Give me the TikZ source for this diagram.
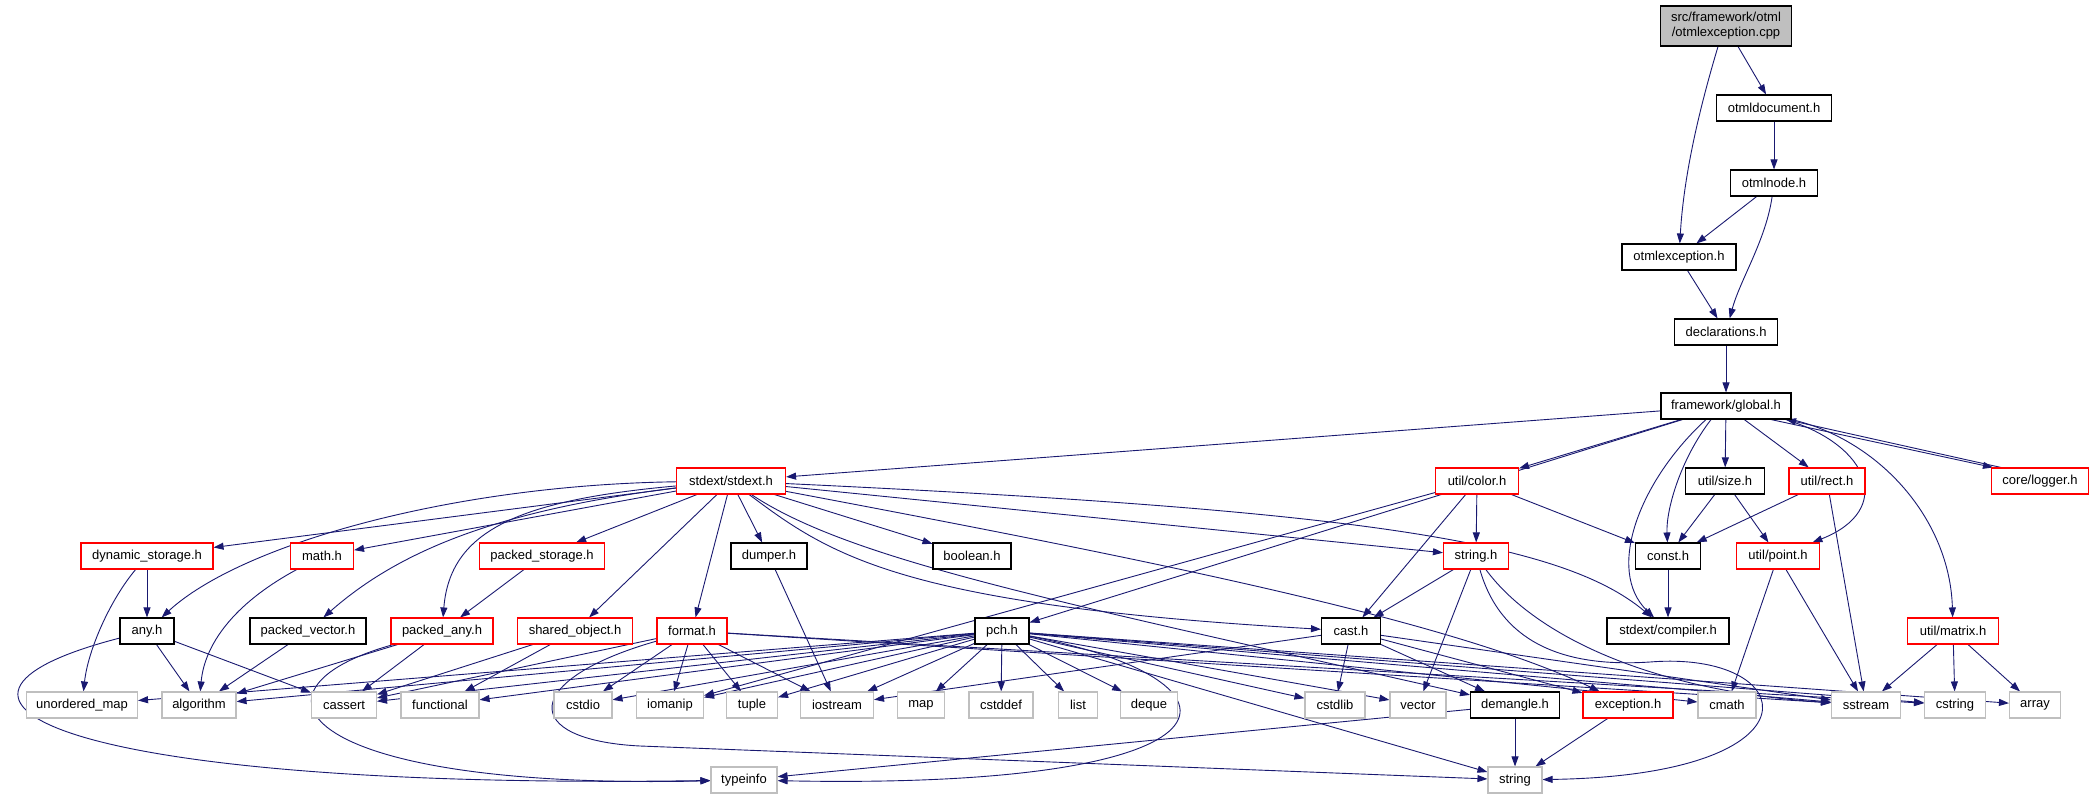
\documentclass[tikz,border=0pt]{standalone}
\usepackage{fontspec}
\setmainfont{Liberation Sans}
\usetikzlibrary{arrows.meta}
\pgfdeclarelayer{bg}
\pgfsetlayers{bg,main}
\definecolor{edgec}{HTML}{191970}
\definecolor{grayb}{HTML}{BFBFBF}
\definecolor{redb}{HTML}{FF0000}
\tikzset{
  x=1pt,y=1pt,
  nb/.style={draw=black,fill=white,line width=1.1pt,minimum height=26pt,inner sep=0pt,
    font=\fontsize{13}{15}\selectfont},
  nr/.style={nb,draw=redb},
  ng/.style={nb,draw=grayb},
  nsrc/.style={nb,fill=grayb,minimum height=40pt,align=center},
  e/.style={draw=edgec,line width=0.9pt,-{Triangle[length=10pt,width=7pt]}}
}
\begin{document}
\begin{tikzpicture}
\useasboundingbox (0,0) rectangle (2095,-799);
% rows
\node[nsrc,minimum width=131pt] (src) at (1726,-26) {src/framework/otml\\/otmlexception.cpp};
\node[nb,minimum width=115pt] (otmldoc) at (1774,-108) {otmldocument.h};
\node[nb,minimum width=87pt] (otmlnode) at (1774,-183) {otmlnode.h};
\node[nb,minimum width=114pt] (otmlexc) at (1679,-257) {otmlexception.h};
\node[nb,minimum width=103pt] (decl) at (1726,-332) {declarations.h};
\node[nb,minimum width=130pt] (global) at (1726,-406) {framework/global.h};
\node[nr,minimum width=109pt] (stdext) at (731,-481) {stdext/stdext.h};
\node[nr,minimum width=83pt] (color) at (1477,-481) {util/color.h};
\node[nb,minimum width=79pt] (size) at (1725,-481) {util/size.h};
\node[nr,minimum width=76pt] (rect) at (1827,-481) {util/rect.h};
\node[nr,minimum width=97pt] (logger) at (2040,-481) {core/logger.h};
\node[nr,minimum width=132pt] (dynstor) at (147,-556) {dynamic\_storage.h};
\node[nr,minimum width=63pt] (math) at (322,-556) {math.h};
\node[nr,minimum width=125pt] (pstor) at (542,-556) {packed\_storage.h};
\node[nb,minimum width=76pt] (dumper) at (769,-556) {dumper.h};
\node[nb,minimum width=78pt] (boolean) at (972,-556) {boolean.h};
\node[nr,minimum width=65pt] (stringh) at (1476,-556) {string.h};
\node[nb,minimum width=65pt] (const) at (1668,-556) {const.h};
\node[nr,minimum width=83pt] (point) at (1778,-556) {util/point.h};
\node[nb,minimum width=54pt] (any) at (147,-631) {any.h};
\node[nb,minimum width=116pt] (pvec) at (308,-631) {packed\_vector.h};
\node[nr,minimum width=102pt] (pany) at (442,-631) {packed\_any.h};
\node[nr,minimum width=115pt] (shobj) at (575,-631) {shared\_object.h};
\node[nr,minimum width=70pt] (format) at (692,-631) {format.h};
\node[nb,minimum width=54pt] (pch) at (1002,-631) {pch.h};
\node[nb,minimum width=59pt] (cast) at (1351,-631) {cast.h};
\node[nb,minimum width=122pt] (compiler) at (1668,-631) {stdext/compiler.h};
\node[nr,minimum width=91pt] (matrix) at (1953,-631) {util/matrix.h};
\node[ng,minimum width=111pt] (umap) at (82,-705) {unordered\_map};
\node[ng,minimum width=74pt] (algorithm) at (199,-705) {algorithm};
\node[ng,minimum width=65pt] (cassert) at (344,-705) {cassert};
\node[ng,minimum width=78pt] (functional) at (440,-705) {functional};
\node[ng,minimum width=58pt] (cstdio) at (583,-705) {cstdio};
\node[ng,minimum width=67pt] (iomanip) at (670,-705) {iomanip};
\node[ng,minimum width=51pt] (tuple) at (752,-705) {tuple};
\node[ng,minimum width=73pt] (iostream) at (837,-705) {iostream};
\node[ng,minimum width=47pt] (map) at (921,-705) {map};
\node[ng,minimum width=64pt] (cstddef) at (1001,-705) {cstddef};
\node[ng,minimum width=39pt] (list) at (1078,-705) {list};
\node[ng,minimum width=57pt] (deque) at (1149,-705) {deque};
\node[ng,minimum width=60pt] (cstdlib) at (1335,-705) {cstdlib};
\node[ng,minimum width=56pt] (vector) at (1418,-705) {vector};
\node[nb,minimum width=89pt] (demangle) at (1515,-705) {demangle.h};
\node[nr,minimum width=90pt] (exception) at (1628,-705) {exception.h};
\node[ng,minimum width=58pt] (cmath) at (1727,-705) {cmath};
\node[ng,minimum width=69pt] (sstream) at (1866,-705) {sstream};
\node[ng,minimum width=61pt] (cstring) at (1955,-705) {cstring};
\node[ng,minimum width=51pt] (array) at (2035,-705) {array};
\node[ng,minimum width=66pt] (typeinfo) at (744,-780) {typeinfo};
\node[ng,minimum width=54pt] (string) at (1515,-780) {string};

\begin{pgfonlayer}{bg}
% top chain
\draw[e] (src) -- (otmldoc);
\draw[e] ([xshift=-8pt]src.south) .. controls (1702,-100) and (1684,-170) .. (otmlexc);
\draw[e] (otmldoc) -- (otmlnode);
\draw[e] (otmlnode) -- (otmlexc);
\draw[e] (otmlnode) .. controls (1766,-240) and (1740,-280) .. (decl);
\draw[e] (otmlexc) -- (decl);
\draw[e] (decl) -- (global);
% global
\draw[e] (global) -- (stdext);
\draw[e] (global) -- (pch);
\draw[e] (global) -- (color);
\draw[e] (global) -- (size);
\draw[e] (global) -- (rect);
\draw[e] ([xshift=45pt]global.south) -- ([xshift=2pt]logger.north west);
\draw[e] ([xshift=10pt]logger.north west) -- ([xshift=60pt]global.south);
\draw[e] ([xshift=-15pt]global.south) .. controls (1680,-460) and (1666,-510) .. (const);
\draw[e] ([xshift=-20pt]global.south) .. controls (1640,-480) and (1605,-570) .. (compiler);
\draw[e] ([xshift=-6pt]global.south east) .. controls (1870,-445) and (1895,-510) .. (point);
\draw[e] (global.south east) .. controls (1880,-440) and (1950,-520) .. (matrix);
% stdext
\draw[e] (stdext) -- (dynstor);
\draw[e] (stdext) -- (math);
\draw[e] (stdext) .. controls (450,-485) and (240,-545) .. (any);
\draw[e] (stdext) .. controls (500,-510) and (400,-550) .. (pvec);
\draw[e] (stdext) .. controls (520,-500) and (450,-530) .. (pany);
\draw[e] (stdext) -- (pstor);
\draw[e] (stdext) -- (shobj);
\draw[e] (stdext) -- (format);
\draw[e] (stdext) -- (dumper);
\draw[e] (stdext) -- (boolean);
\draw[e] (stdext) .. controls (830,-555) and (900,-605) .. (cast);
\draw[e] (stdext) -- (stringh);
\draw[e] (stdext) .. controls (1350,-510) and (1560,-540) .. (compiler);
\draw[e] (stdext) .. controls (1150,-560) and (1450,-620) .. (exception);
\draw[e] (stdext) .. controls (850,-560) and (1050,-600) .. (demangle);
% util
\draw[e] (color) -- (stringh);
\draw[e] (color) -- (cast);
\draw[e] (color) -- (const);
\draw[e] (color) -- (iomanip);
\draw[e] (size) -- (const);
\draw[e] (size) -- (point);
\draw[e] (rect) -- (const);
\draw[e] (rect) -- (sstream);
\draw[e] (point) -- (cmath);
\draw[e] (point) -- (sstream);
\draw[e] (matrix) -- (sstream);
\draw[e] (matrix) -- (cstring);
\draw[e] (matrix) -- (array);
\draw[e] (const) -- (compiler);
% string.h
\draw[e] (stringh) -- (cast);
\draw[e] (stringh) -- (vector);
\draw[e] (stringh) .. controls (1500,-640) and (1560,-668) .. (1650,-662) .. controls (1800,-650) and (1830,-775) .. (string);
\draw[e] (stringh) .. controls (1530,-630) and (1640,-690) .. (sstream);
% left part
\draw[e] (dynstor) -- (any);
\draw[e] (dynstor) .. controls (110,-600) and (88,-650) .. (umap);
\draw[e] (math) .. controls (240,-600) and (205,-640) .. (algorithm);
\draw[e] (any) -- (algorithm);
\draw[e] (any) -- (cassert);
\draw[e] (any) .. controls (-120,-700) and (60,-790) .. (typeinfo);
\draw[e] (pvec) -- (algorithm);
\draw[e] (pstor) -- (pany);
\draw[e] (pany) -- (algorithm);
\draw[e] (pany) -- (cassert);
\draw[e] (pany) .. controls (230,-690) and (300,-790) .. (typeinfo);
\draw[e] (shobj) -- (cassert);
\draw[e] (shobj) -- (functional);
% format
\draw[e] (format) -- (cassert);
\draw[e] (format) -- (cstdio);
\draw[e] (format) -- (iomanip);
\draw[e] (format) -- (tuple);
\draw[e] (format) -- (iostream);
\draw[e] (format) -- (sstream);
\draw[e] (format) -- (cstring);
\draw[e] (format) .. controls (520,-680) and (520,-740) .. (640,-746) -- (string);
\draw[e] (dumper) -- (iostream);
% pch
\draw[e] (pch) -- (umap);
\draw[e] (pch) -- (algorithm);
\draw[e] (pch) -- (cassert);
\draw[e] (pch) -- (functional);
\draw[e] (pch) -- (cstdio);
\draw[e] (pch) -- (iomanip);
\draw[e] (pch) -- (tuple);
\draw[e] (pch) -- (iostream);
\draw[e] (pch) -- (map);
\draw[e] (pch) -- (cstddef);
\draw[e] (pch) -- (list);
\draw[e] (pch) -- (deque);
\draw[e] (pch) -- (cstdlib);
\draw[e] (pch) -- (vector);
\draw[e] (pch) -- (cmath);
\draw[e] (pch) -- (sstream);
\draw[e] (pch) -- (cstring);
\draw[e] (pch) -- (array);
\draw[e] (pch) -- (string);
\draw[e] (pch) .. controls (1260,-680) and (1260,-790) .. (typeinfo);
% cast & co
\draw[e] (cast) -- (cstdlib);
\draw[e] (cast) -- (iostream);
\draw[e] (cast) -- (demangle);
\draw[e] (cast) -- (exception);
\draw[e] (cast) -- (sstream);
\draw[e] (demangle) -- (string);
\draw[e] (demangle) -- (typeinfo);
\draw[e] (exception) -- (string);
\end{pgfonlayer}
\end{tikzpicture}
\end{document}
